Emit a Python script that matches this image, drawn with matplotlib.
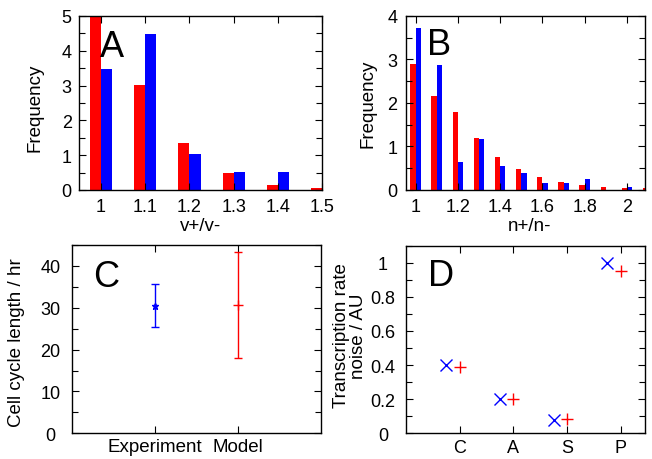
import numpy as np
import matplotlib
matplotlib.use('Agg')
import matplotlib.pyplot as plt
from matplotlib.ticker import MultipleLocator

plt.rcParams['font.family'] = ['Liberation Sans', 'DejaVu Sans']

# panel A: v+/v- histogram
a_bins = [1.0, 1.1, 1.2, 1.3, 1.4, 1.5]
a_model = [5.0, 3.02, 1.34, 0.49, 0.15, 0.06]
a_exp = [3.48, 4.49, 1.03, 0.52, 0.52, 0.0]

# panel B: n+/n- histogram
b_bins = [1.0, 1.1, 1.2, 1.3, 1.4, 1.5, 1.6, 1.7, 1.8, 1.9, 2.0, 2.1]
b_model = [2.90, 2.16, 1.79, 1.19, 0.76, 0.48, 0.29, 0.18, 0.12, 0.06, 0.04, 0.05]
b_exp = [3.73, 2.88, 0.64, 1.17, 0.55, 0.40, 0.16, 0.16, 0.25, 0.0, 0.08, 0.0]

# panel C: cell cycle length
c_labels = ['Experiment', 'Model']
c_mean = [30.5, 30.7]
c_low = [25.3, 18.1]
c_high = [35.6, 43.4]

# panel D: transcription rate noise
d_labels = ['C', 'A', 'S', 'P']
d_exp = [0.40, 0.20, 0.076, 1.0]
d_model = [0.387, 0.20, 0.082, 0.951]

red = '#ff0000'
blue = '#0000ff'
w = 0.025
lab_fs = 13.5
tick_fs = 13

fig = plt.figure(figsize=(6.52, 4.6), dpi=100)
axA = fig.add_axes([0.1212, 0.5848, 0.3727, 0.3783])
axB = fig.add_axes([0.6227, 0.5848, 0.3666, 0.3783])
axC = fig.add_axes([0.110, 0.0559, 0.3819, 0.4093])
axD = fig.add_axes([0.6227, 0.0559, 0.3666, 0.4078])


def style(ax, xpad, ypad):
    for s in ax.spines.values():
        s.set_linewidth(1.0)
    ax.tick_params(which='both', direction='in', top=True, right=True,
                   labelsize=tick_fs, width=0.8)
    ax.tick_params(which='major', length=5)
    ax.tick_params(which='minor', length=4)
    ax.tick_params(axis='x', pad=xpad)
    ax.tick_params(axis='y', pad=ypad)
    # gnuplot-like centred y tick labels
    plt.setp(ax.get_yticklabels(), ha='center')


# A
x = np.array(a_bins)
axA.bar(x - w / 2, a_model, width=w, color=red)
axA.bar(x + w / 2, a_exp, width=w, color=blue)
axA.set_xlim(0.95, 1.5)
axA.set_ylim(0, 5)
axA.set_xticks([1, 1.1, 1.2, 1.3, 1.4, 1.5])
axA.set_xticklabels(['1', '1.1', '1.2', '1.3', '1.4', '1.5'])
axA.set_yticks([0, 1, 2, 3, 4, 5])
axA.yaxis.set_minor_locator(MultipleLocator(0.5))
axA.set_ylabel('Frequency', fontsize=lab_fs)
axA.yaxis.set_label_coords(-0.148, 0.48)
axA.set_xlabel('v+/v-', fontsize=lab_fs)
axA.xaxis.set_label_coords(0.5, -0.155)
style(axA, 5.5, 8.9)
axA.text(0.086, 0.772, 'A', transform=axA.transAxes, fontsize=26,
         ha='left', va='baseline')

# B
x = np.array(b_bins)
axB.bar(x - w / 2, b_model, width=w, color=red)
axB.bar(x + w / 2, b_exp, width=w, color=blue)
axB.set_xlim(0.955, 2.085)
axB.set_ylim(0, 4)
axB.set_xticks([1, 1.2, 1.4, 1.6, 1.8, 2])
axB.set_xticklabels(['1', '1.2', '1.4', '1.6', '1.8', '2'])
axB.set_yticks([0, 1, 2, 3, 4])
axB.yaxis.set_minor_locator(MultipleLocator(0.5))
axB.set_ylabel('Frequency', fontsize=lab_fs)
axB.yaxis.set_label_coords(-0.123, 0.5)
axB.set_xlabel('n+/n-', fontsize=lab_fs)
axB.xaxis.set_label_coords(0.515, -0.155)
style(axB, 5.5, 9.7)
axB.text(0.087, 0.78, 'B', transform=axB.transAxes, fontsize=26,
         ha='left', va='baseline')

# C
pos = np.arange(1, len(c_labels) + 1)
mean = np.array(c_mean)
lo = mean - np.array(c_low)
hi = np.array(c_high) - mean
axC.errorbar(pos[0], mean[0], yerr=[[lo[0]], [hi[0]]], fmt='*',
             color=blue, ms=5, lw=1, capsize=3, capthick=1, mew=1)
axC.errorbar(pos[1], mean[1], yerr=[[lo[1]], [hi[1]]], fmt='+',
             color=red, ms=7, lw=1, capsize=3, capthick=1, mew=1)
axC.set_xlim(0, 3)
axC.set_ylim(0, 45)
axC.set_xticks(pos)
axC.set_xticklabels(c_labels)
axC.set_yticks([0, 10, 20, 30, 40])
axC.yaxis.set_minor_locator(MultipleLocator(5))
axC.set_ylabel('Cell cycle length / hr', fontsize=lab_fs)
axC.yaxis.set_label_coords(-0.1876, 0.4875)
style(axC, 3.5, 15.3)
axC.tick_params(axis='x', labelsize=lab_fs)
axC.text(0.086, 0.782, 'C', transform=axC.transAxes, fontsize=26,
         ha='left', va='baseline')

# D
pos = np.arange(1, len(d_labels) + 1)
axD.plot(pos - 0.25, d_exp, 'x', color=blue, ms=9, mew=1)
axD.plot(pos, d_model, '+', color=red, ms=9, mew=1)
axD.set_xlim(0, 4.45)
axD.set_ylim(0, 1.1)
axD.set_xticks(pos)
axD.set_xticklabels(d_labels)
axD.set_yticks([0, 0.2, 0.4, 0.6, 0.8, 1.0])
axD.set_yticklabels(['0', '0.2', '0.4', '0.6', '0.8', '1'])
axD.yaxis.set_minor_locator(MultipleLocator(0.1))
axD.set_ylabel('Transcription rate\nnoise / AU', fontsize=lab_fs,
               linespacing=1.0)
axD.yaxis.set_label_coords(-0.164, 0.525)
style(axD, 4, 16.6)
axD.text(0.092, 0.79, 'D', transform=axD.transAxes, fontsize=26,
         ha='left', va='baseline')

fig.savefig('out.png', dpi=100)
